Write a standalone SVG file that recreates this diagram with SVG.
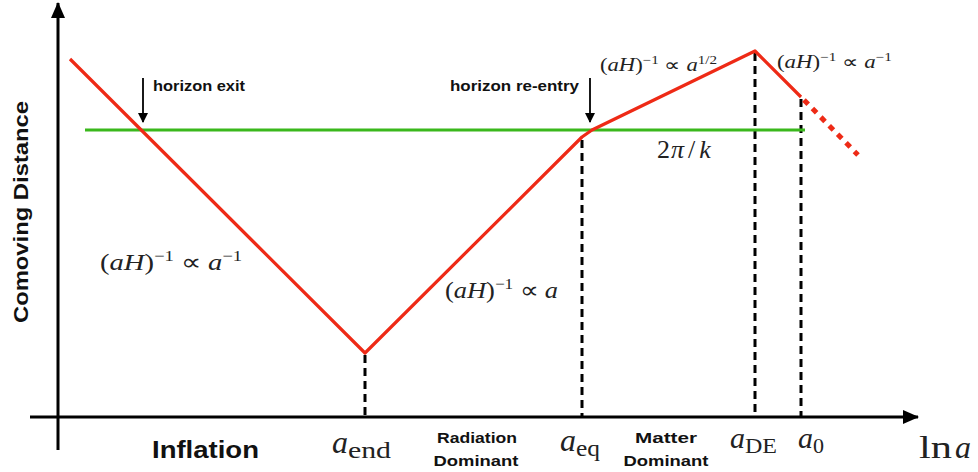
<svg xmlns="http://www.w3.org/2000/svg" width="978" height="472" viewBox="0 0 978 472">
<defs>
<marker id="ah" markerWidth="10" markerHeight="10" refX="9" refY="5" orient="auto" markerUnits="userSpaceOnUse"><path d="M0,0 L10,5 L0,10 z" fill="#000"/></marker>
<marker id="axh" markerWidth="16" markerHeight="14" refX="15" refY="7" orient="auto" markerUnits="userSpaceOnUse"><path d="M0,0 L16,7 L0,14 z" fill="#000"/></marker>
<style>
.sans{font-family:"Liberation Sans",Arial,sans-serif;fill:#111}
.ann{font-size:14px;font-weight:bold}
.era{font-size:15px;font-weight:bold;text-anchor:middle}
.math{font-family:"Liberation Serif","Times New Roman",serif;fill:#222}
.it{font-style:italic}
.red{stroke:#ee2a16;stroke-width:3.2;fill:none;stroke-linejoin:round}
.dash{stroke:#000;stroke-width:3;stroke-dasharray:8 5}
</style>
</defs>
<rect width="978" height="472" fill="#fff"/>
<g id="axes">
<line x1="58" y1="450" x2="58" y2="3" stroke="#000" stroke-width="3" marker-end="url(#axh)"/>
<line x1="30" y1="417" x2="918" y2="417" stroke="#000" stroke-width="3" marker-end="url(#axh)"/>
<text class="sans" font-size="21" font-weight="bold" transform="translate(28,323) rotate(-90)" textLength="222" lengthAdjust="spacingAndGlyphs">Comoving Distance</text>
</g>
<g id="connectors">
<line class="dash" x1="365" y1="355" x2="365" y2="417"/>
<line class="dash" x1="582" y1="140" x2="582" y2="417"/>
<line class="dash" x1="755" y1="53" x2="755" y2="417"/>
<line class="dash" x1="801" y1="99" x2="801" y2="417"/>
<line x1="85" y1="130" x2="805" y2="130" stroke="#3ab81c" stroke-width="3.2"/>
<polyline class="red" points="70,59 365,353 582,137 592,130 755,51 801,97"/>
<line x1="804" y1="100" x2="858" y2="155" stroke="#ee2a16" stroke-width="5" stroke-dasharray="6 6"/>
<line x1="143" y1="78" x2="143" y2="122" stroke="#000" stroke-width="1.8" marker-end="url(#ah)"/>
<line x1="590" y1="78" x2="590" y2="122" stroke="#000" stroke-width="1.8" marker-end="url(#ah)"/>
</g>
<g id="annotations">
<text class="sans ann" x="153" y="91" textLength="92" lengthAdjust="spacingAndGlyphs">horizon exit</text>
<text class="sans ann" x="450" y="91" textLength="129" lengthAdjust="spacingAndGlyphs">horizon re-entry</text>
</g>
<g id="labels">
<text class="math" x="100" y="270" font-size="23" textLength="142" lengthAdjust="spacingAndGlyphs">(<tspan class="it">aH</tspan>)<tspan font-size="15" dy="-9">−1</tspan><tspan dy="9"> ∝ </tspan><tspan class="it">a</tspan><tspan font-size="15" dy="-9">−1</tspan></text>
<text class="math" x="445" y="298" font-size="23" textLength="113" lengthAdjust="spacingAndGlyphs">(<tspan class="it">aH</tspan>)<tspan font-size="15" dy="-9">−1</tspan><tspan dy="9"> ∝ </tspan><tspan class="it">a</tspan></text>
<text class="math" x="600" y="71" font-size="18" textLength="117" lengthAdjust="spacingAndGlyphs">(<tspan class="it">aH</tspan>)<tspan font-size="12" dy="-7">−1</tspan><tspan dy="7"> ∝ </tspan><tspan class="it">a</tspan><tspan font-size="12" dy="-7">1/2</tspan></text>
<text class="math" x="777" y="68" font-size="18" textLength="115" lengthAdjust="spacingAndGlyphs">(<tspan class="it">aH</tspan>)<tspan font-size="12" dy="-7">−1</tspan><tspan dy="7"> ∝ </tspan><tspan class="it">a</tspan><tspan font-size="12" dy="-7">−1</tspan></text>
<text class="math" x="657" y="158" font-size="26">2<tspan class="it" dx="1">π</tspan><tspan dx="4">/</tspan><tspan class="it" dx="4">k</tspan></text>
</g>
<g id="xlabels">
<text class="sans" x="152" y="458" font-size="23" font-weight="bold" textLength="107" lengthAdjust="spacingAndGlyphs">Inflation</text>
<text class="math" x="332" y="453" font-size="32"><tspan class="it">a</tspan><tspan font-size="24" dy="5" textLength="43" lengthAdjust="spacingAndGlyphs">end</tspan></text>
<text class="sans era" x="477" y="443" textLength="80" lengthAdjust="spacingAndGlyphs">Radiation</text>
<text class="sans era" x="476" y="466" textLength="85" lengthAdjust="spacingAndGlyphs">Dominant</text>
<text class="math" x="560" y="451" font-size="32"><tspan class="it">a</tspan><tspan font-size="24" dy="5" textLength="24" lengthAdjust="spacingAndGlyphs">eq</tspan></text>
<text class="sans era" x="666" y="443" textLength="62" lengthAdjust="spacingAndGlyphs">Matter</text>
<text class="sans era" x="666" y="466" textLength="85" lengthAdjust="spacingAndGlyphs">Dominant</text>
<text class="math" x="730" y="448" font-size="30"><tspan class="it">a</tspan><tspan font-size="22" dy="5" textLength="32" lengthAdjust="spacingAndGlyphs">DE</tspan></text>
<text class="math" x="798" y="448" font-size="30"><tspan class="it">a</tspan><tspan font-size="22" dy="5">0</tspan></text>
<text class="math" x="919" y="458" font-size="32"><tspan textLength="33" lengthAdjust="spacingAndGlyphs">ln</tspan><tspan class="it" x="955">a</tspan></text>
</g>
</svg>
